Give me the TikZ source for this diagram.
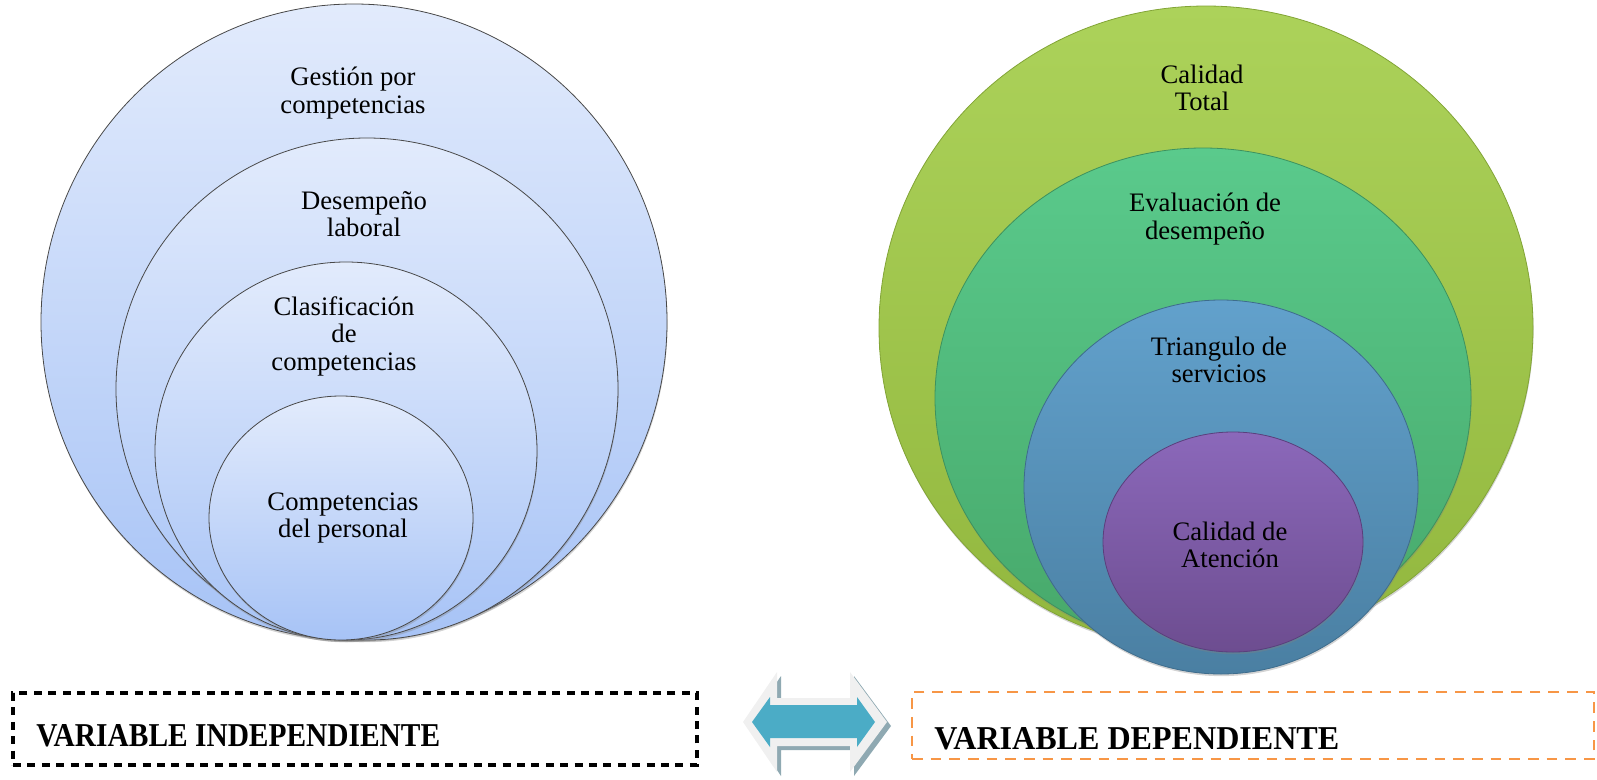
\documentclass[tikz,border=0pt]{standalone}
\usepackage{fontspec}
\usepackage{graphicx}
\setmainfont{Liberation Serif}
\usetikzlibrary{shadows}

\definecolor{bluetop}{HTML}{E2EBFC}
\definecolor{bluebot}{HTML}{A7C3F6}
\definecolor{ringgray}{HTML}{484848}
\definecolor{greentop}{HTML}{ACD25A}
\definecolor{greenbot}{HTML}{92B73E}
\definecolor{greenline}{HTML}{82A436}
\definecolor{tealtop}{HTML}{5ACA8C}
\definecolor{tealbot}{HTML}{47A86A}
\definecolor{tealline}{HTML}{3D925E}
\definecolor{stop}{HTML}{62A1CC}
\definecolor{sbot}{HTML}{4A7FA2}
\definecolor{sline}{HTML}{3E6C8C}
\definecolor{purptop}{HTML}{8B68BA}
\definecolor{purpbot}{HTML}{6D4D90}
\definecolor{purpline}{HTML}{5A3F7C}
\definecolor{arrowteal}{HTML}{4BACC6}
\definecolor{rimgray}{HTML}{F0F0F0}
\definecolor{shadowgray}{HTML}{8FA9B2}
\definecolor{orangedash}{HTML}{F79646}

\begin{document}
\begin{tikzpicture}[x=0.75pt, y=-0.75pt,
  ring/.style={line width=0.6pt, drop shadow={shadow xshift=0.4pt, shadow yshift=-1.6pt, opacity=0.35}},
  bluering/.style={ring, draw=ringgray, top color=bluetop, bottom color=bluebot},
  lbl/.style={align=center, inner sep=0pt, font=\fontsize{20}{20.6}\selectfont},
  vartext/.style={anchor=base west, inner sep=0pt}]
\useasboundingbox (0,0) rectangle (1597,779);

\draw[bluering] (354,322) ellipse [x radius=313, y radius=318]; % gestion
\draw[bluering] (367,389) ellipse [x radius=251, y radius=251]; % desempeno
\draw[bluering] (346,451) ellipse [x radius=191, y radius=189]; % clasificacion
\draw[bluering] (341,518) ellipse [x radius=132, y radius=122]; % competencias
\node[lbl] (gestion) at (353,93) {Gestión por\\competencias};
\node[lbl] (desemp) at (364,214) {Desempeño\\ laboral};
\node[lbl] (clasif) at (344,336) {Clasificación\\de\\competencias};
\node[lbl] (compet) at (343,518) {Competencias\\del personal};

\draw[ring, draw=greenline, top color=greentop, bottom color=greenbot] (1206,328) ellipse [x radius=327, y radius=322]; % calidad total
\draw[ring, draw=tealline, top color=tealtop, bottom color=tealbot] (1203,398) ellipse [x radius=268, y radius=250]; % evaluacion
\draw[ring, draw=sline, top color=stop, bottom color=sbot] (1221,487) ellipse [x radius=197, y radius=187]; % triangulo
\draw[ring, draw=purpline, top color=purptop, bottom color=purpbot] (1233,542) ellipse [x radius=130, y radius=110]; % atencion
\node[lbl] (caltot) at (1202,88) {Calidad\\Total};
\node[lbl] (evalua) at (1205,219) {Evaluación de\\desempeño};
\node[lbl] (triang) at (1219,360) {Triangulo de\\servicios};
\node[lbl] (calaten) at (1230,545) {Calidad de\\Atención};

\node[draw, dash pattern=on 6pt off 4.8pt, line width=2.3pt, minimum width=513pt, minimum height=54pt] (lbox) at (355,729) {};
\node[draw=orangedash, dash pattern=on 8pt off 6pt, line width=1.7pt, minimum width=511.5pt, minimum height=50.25pt] (rbox) at (1253,725.5) {};
\node[vartext] (ltext) at (36,746) {\resizebox{303pt}{16.5pt}{\bfseries VARIABLE INDEPENDIENTE}};
\node[vartext] (rtext) at (934,749) {\resizebox{303.75pt}{16.5pt}{\bfseries VARIABLE DEPENDIENTE}};

\fill[shadowgray, shift={(4,4)}] (743,722) -- (777,672) -- (777,698) -- (850,698) -- (850,672) -- (887,722) -- (850,772) -- (850,746) -- (777,746) -- (777,772) -- cycle; % arrow shadow
\fill[rimgray] (743,722) -- (777,672) -- (777,698) -- (850,698) -- (850,672) -- (887,722) -- (850,772) -- (850,746) -- (777,746) -- (777,772) -- cycle; % arrow rim
\fill[arrowteal] (752,722) -- (770,697) -- (770,705) -- (857,705) -- (857,697) -- (875,722) -- (857,747) -- (857,738) -- (770,738) -- (770,747) -- cycle; % double arrow
\end{tikzpicture}
\end{document}
